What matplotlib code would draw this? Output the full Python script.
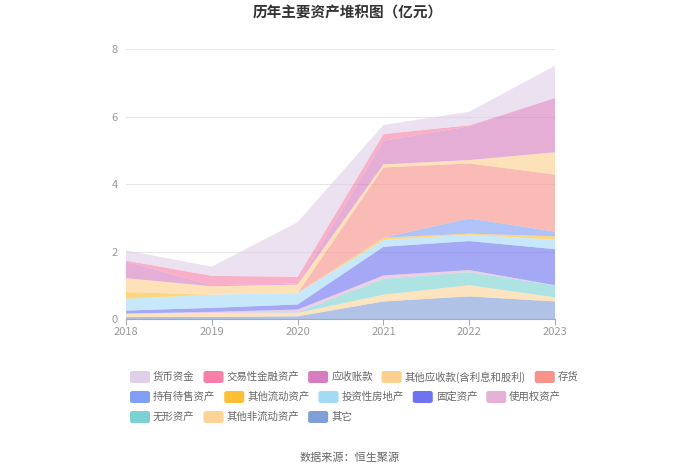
import numpy as np
import matplotlib
matplotlib.use("Agg")
import matplotlib.pyplot as plt
from matplotlib.patches import FancyBboxPatch

plt.rcParams['font.family'] = ['Noto Sans CJK SC', 'DejaVu Sans']

years = [2018, 2019, 2020, 2021, 2022, 2023]

# legend order (top of stack first)
names = ['货币资金', '交易性金融资产', '应收账款', '其他应收款(含利息和股利)', '存货',
         '持有待售资产', '其他流动资产', '投资性房地产', '固定资产', '使用权资产',
         '无形资产', '其他非流动资产', '其它']
colors = ['#e0cfe9', '#f77fa8', '#d67cbf', '#fdcf8f', '#f8928a',
          '#7e9ff5', '#fdbf33', '#a3dbf7', '#6f73ef', '#e6b1d6',
          '#7bd2d3', '#fdd397', '#809fd8']

# values in 亿元
huobi = [0.30, 0.27, 1.62, 0.27, 0.40, 0.96]
jiaoyi = [0.03, 0.28, 0.20, 0.20, 0.03, 0.00]
yingshou = [0.49, 0.03, 0.03, 0.70, 1.00, 1.61]
qitayingshou = [0.41, 0.25, 0.25, 0.09, 0.10, 0.66]
cunhuo = [0.00, 0.00, 0.00, 2.08, 1.63, 1.69]
chiyou = [0.00, 0.00, 0.00, 0.00, 0.45, 0.14]
qitaliudong = [0.20, 0.00, 0.00, 0.07, 0.03, 0.10]
touzifang = [0.35, 0.39, 0.34, 0.20, 0.19, 0.28]
guding = [0.09, 0.12, 0.15, 0.85, 0.86, 1.07]
shiyongquan = [0.00, 0.04, 0.08, 0.10, 0.06, 0.01]
wuxing = [0.00, 0.00, 0.02, 0.47, 0.39, 0.35]
qitafeiliudong = [0.10, 0.11, 0.10, 0.20, 0.33, 0.12]
qita = [0.06, 0.06, 0.08, 0.52, 0.67, 0.52]

series = [huobi, jiaoyi, yingshou, qitayingshou, cunhuo, chiyou, qitaliudong,
          touzifang, guding, shiyongquan, wuxing, qitafeiliudong, qita]

fig = plt.figure(figsize=(7, 4.74), dpi=100)
ax = fig.add_axes([0.18, 0.327, 0.613, 0.5696])

# stack from bottom (last in legend) to top
ax.stackplot(years, *series[::-1], colors=colors[::-1], alpha=0.62, linewidth=0)

ax.set_xlim(2018, 2023)
ax.set_ylim(0, 8)
ax.set_yticks([0, 2, 4, 6, 8])
ax.set_xticks(years)
ax.grid(axis='y', color='#e6e6e6', linewidth=0.8)
ax.set_axisbelow(True)
for s in ['top', 'right', 'left']:
    ax.spines[s].set_visible(False)
ax.spines['bottom'].set_color('#aaaaaa')
ax.tick_params(axis='y', length=0, labelcolor='#999999', labelsize=8, pad=6)
ax.tick_params(axis='x', length=4, color='#aaaaaa', labelcolor='#999999', labelsize=8, pad=2)

fig.text(0.497, 0.973, '历年主要资产堆积图（亿元）', ha='center', va='center',
         fontsize=10.5, fontweight='bold', color='#333333')
fig.text(0.5, 0.035, '数据来源：恒生聚源', ha='center', va='center',
         fontsize=8, color='#666666')

# flow legend
fig.canvas.draw()
renderer = fig.canvas.get_renderer()
W, H = 700, 474
x0, xmax = 130, 600
rows_y = [377, 397, 417]
x, row = x0, 0
for name, c in zip(names, colors):
    t = fig.text(0, 0, name, fontsize=7.5, color='#666666', va='center')
    tw = t.get_window_extent(renderer).width
    item_w = 23 + tw
    if x + item_w > xmax:
        row += 1
        x = x0
    y = rows_y[row]
    box = FancyBboxPatch((x / W, (H - y - 6) / H), 20 / W, 12 / H,
                         boxstyle='round,pad=0,rounding_size=0.004',
                         transform=fig.transFigure, facecolor=c, edgecolor='none')
    fig.patches.append(box)
    t.set_position(((x + 23) / W, (H - y) / H))
    x += item_w + 9

fig.savefig('out.png', dpi=100)
